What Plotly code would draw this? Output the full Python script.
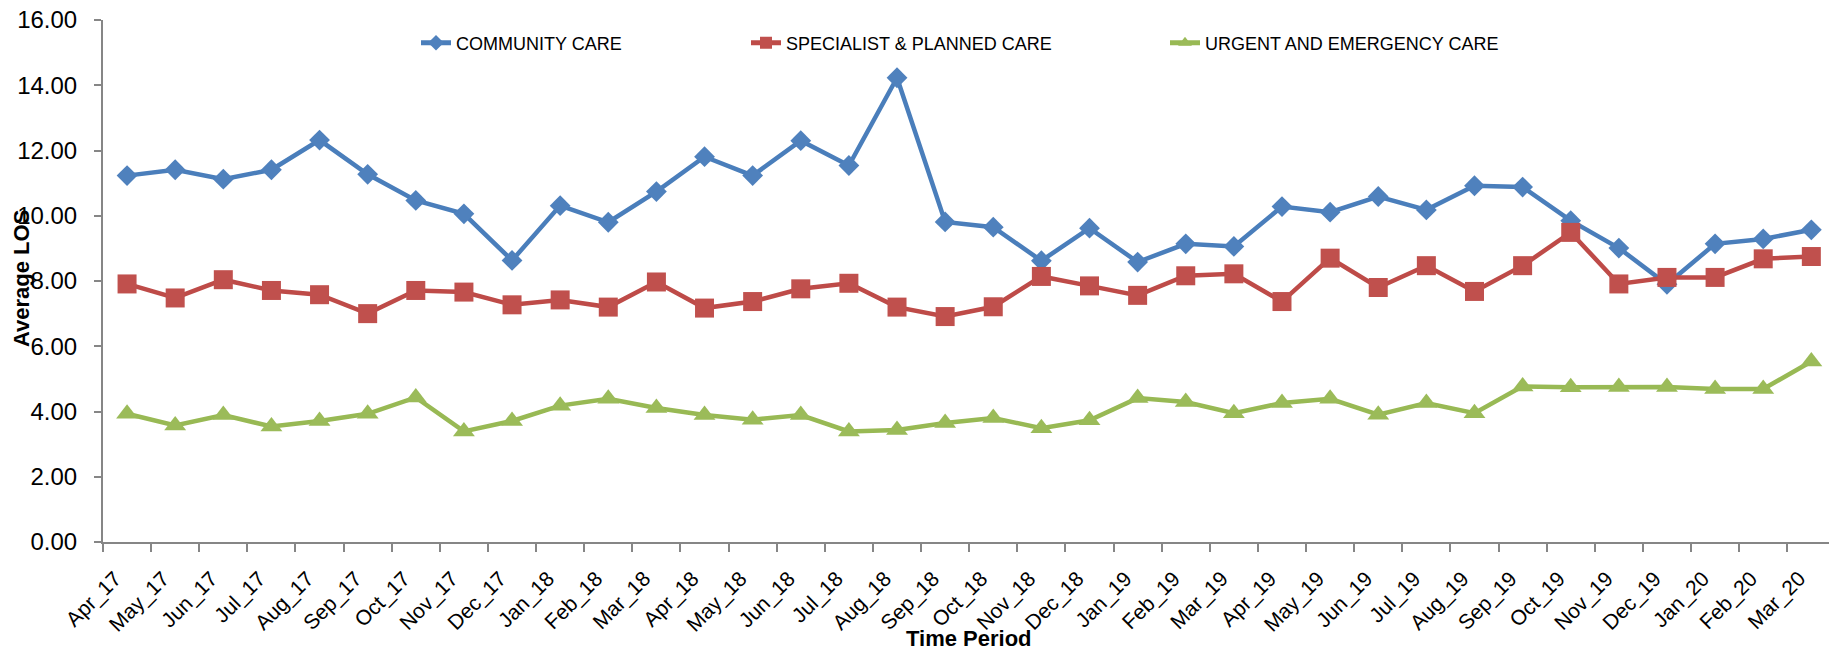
import plotly.graph_objects as go

# Monthly periods, April 2017 to March 2020
periods = [
    "Apr_17", "May_17", "Jun_17", "Jul_17", "Aug_17", "Sep_17", "Oct_17", "Nov_17", "Dec_17",
    "Jan_18", "Feb_18", "Mar_18", "Apr_18", "May_18", "Jun_18", "Jul_18", "Aug_18", "Sep_18",
    "Oct_18", "Nov_18", "Dec_18", "Jan_19", "Feb_19", "Mar_19", "Apr_19", "May_19", "Jun_19",
    "Jul_19", "Aug_19", "Sep_19", "Oct_19", "Nov_19", "Dec_19", "Jan_20", "Feb_20", "Mar_20",
]

community_care = [
    11.23, 11.41, 11.12, 11.41, 12.32, 11.27, 10.47, 10.06, 8.63,
    10.31, 9.80, 10.74, 11.81, 11.23, 12.30, 11.54, 14.23, 9.81,
    9.65, 8.62, 9.62, 8.58, 9.14, 9.06, 10.28, 10.11, 10.59,
    10.18, 10.92, 10.88, 9.85, 9.01, 7.90, 9.14, 9.29, 9.57,
]

specialist_planned_care = [
    7.91, 7.48, 8.04, 7.71, 7.58, 7.00, 7.71, 7.66, 7.27,
    7.42, 7.20, 7.97, 7.17, 7.37, 7.76, 7.93, 7.20, 6.91,
    7.21, 8.14, 7.85, 7.56, 8.16, 8.22, 7.37, 8.70, 7.80,
    8.47, 7.68, 8.47, 9.49, 7.91, 8.11, 8.11, 8.68, 8.75,
]

urgent_emergency_care = [
    3.93, 3.57, 3.89, 3.54, 3.71, 3.93, 4.43, 3.39, 3.71,
    4.18, 4.39, 4.11, 3.89, 3.75, 3.89, 3.39, 3.43, 3.65,
    3.80, 3.49, 3.73, 4.41, 4.29, 3.95, 4.26, 4.39, 3.90,
    4.26, 3.95, 4.77, 4.74, 4.75, 4.75, 4.69, 4.69, 5.53,
]

series_names = ["COMMUNITY CARE", "SPECIALIST & PLANNED CARE", "URGENT AND EMERGENCY CARE"]
y_ticks = [0, 2, 4, 6, 8, 10, 12, 14, 16]

# Figure geometry (pixels)
W, H = 1829, 653
M_L, M_R, M_T, M_B = 103, 0, 20, 111
PLOT_W = W - M_L - M_R
PLOT_H = H - M_T - M_B


def px_x(px):
    return (px - M_L) / PLOT_W


def px_y(py):
    return (H - M_B - py) / PLOT_H


line_colors = ["#4A7EBB", "#BE4B48", "#98B954"]
marker_colors = ["#4F81BD", "#C0504D", "#9BBB59"]
symbols = ["diamond", "square", "triangle-up"]
marker_sizes = [16, 19, 19]
legend_ids = ["legend", "legend2", "legend3"]

fig = go.Figure()
for name, values, lc, mc, sym, ms, lg in zip(
    series_names,
    [community_care, specialist_planned_care, urgent_emergency_care],
    line_colors, marker_colors, symbols, marker_sizes, legend_ids,
):
    fig.add_trace(go.Scatter(
        x=periods, y=values, name=name, mode="lines+markers",
        line=dict(color=lc, width=4.5),
        marker=dict(symbol=sym, size=ms, color=mc, line=dict(width=0)),
        legend=lg, showlegend=True,
    ))

legend_font = dict(family="Liberation Sans, Arial, sans-serif", size=18, color="#000000")
legend_style = dict(
    orientation="h", xref="container", yref="container",
    xanchor="left", yanchor="middle", y=1 - 43 / H,
    font=legend_font, bgcolor="rgba(0,0,0,0)", borderwidth=0,
    itemsizing="constant",
)

axis_line = "#868686"

fig.update_layout(
    width=W, height=H,
    showlegend=True,
    margin=dict(l=M_L, r=M_R, t=M_T, b=M_B, autoexpand=False),
    paper_bgcolor="#FFFFFF", plot_bgcolor="#FFFFFF",
    font=dict(family="Liberation Sans, Arial, sans-serif", color="#000000"),
    legend=dict(x=416 / W, **legend_style),
    legend2=dict(x=746 / W, **legend_style),
    legend3=dict(x=1165 / W, **legend_style),
    xaxis=dict(
        type="category", categoryorder="array", categoryarray=periods,
        range=[-0.5, 35.367], tickson="boundaries",
        showline=True, linecolor=axis_line, linewidth=2,
        ticks="outside", ticklen=8, tickwidth=2, tickcolor=axis_line,
        tickangle=-45, showgrid=False, zeroline=False,
        ticklabelstandoff=14, ticklabelshift=-12,
        tickfont=dict(family="Liberation Sans, Arial, sans-serif", size=21, color="#000000"),
    ),
    yaxis=dict(
        range=[0, 16], tickmode="array", tickvals=y_ticks,
        tickformat=".2f",
        showline=True, linecolor=axis_line, linewidth=2,
        ticks="outside", ticklen=7, tickwidth=2, tickcolor=axis_line,
        showgrid=False, zeroline=False, ticklabelstandoff=12,
        tickfont=dict(family="Liberation Sans, Arial, sans-serif", size=24, color="#000000"),
    ),
    annotations=[
        dict(
            text="<b>Average LOS</b>", textangle=-90, showarrow=False,
            xref="paper", yref="paper", x=px_x(21), y=px_y(279),
            xanchor="center", yanchor="middle",
            font=dict(family="Liberation Sans, Arial, sans-serif", size=22, color="#000000"),
        ),
        dict(
            text="<b>Time Period</b>", showarrow=False,
            xref="paper", yref="paper", x=px_x(969), y=px_y(653),
            xanchor="center", yanchor="bottom",
            font=dict(family="Liberation Sans, Arial, sans-serif", size=22, color="#000000"),
        ),
    ],
)

fig.write_html("out.html")
